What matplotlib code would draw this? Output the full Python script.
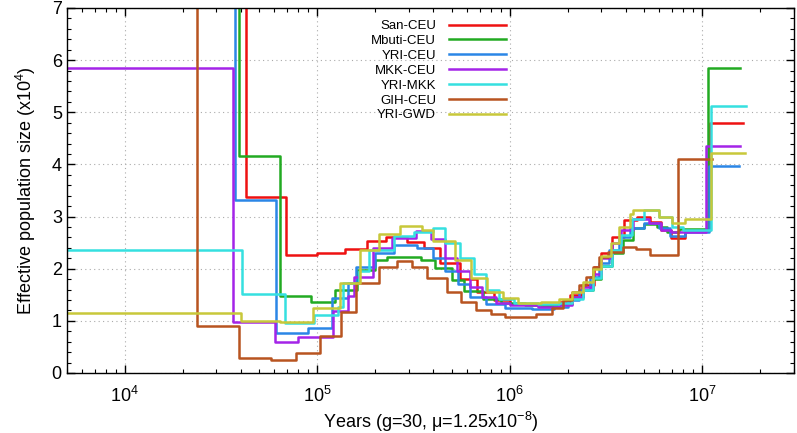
import numpy as np
import matplotlib.pyplot as plt
from matplotlib.ticker import LogLocator, MultipleLocator, NullFormatter

plt.rcParams['font.family'] = ['Liberation Sans', 'DejaVu Sans']
plt.rcParams['mathtext.default'] = 'regular'

# step start times (years); last entry is where the curve ends
san_t = [4e3, 4.28e4, 6.9e4, 1.0e5, 1.39e5, 1.82e5, 2.28e5, 2.93e5, 3.6e5, 4.35e5, 5.5e5, 6.8e5,
         8.3e5, 1.0e6, 1.45e6, 1.8e6, 2.05e6, 2.39e6, 2.75e6, 3.0e6, 3.42e6, 3.95e6, 4.6e6, 5.33e6,
         6.14e6, 6.9e6, 8.1e6, 1.10e7, 1.64e7]
san_ne = [12, 3.38, 2.26, 2.31, 2.38, 2.53, 2.61, 2.51, 2.39, 2.11, 1.80, 1.56,
          1.40, 1.32, 1.30, 1.37, 1.50, 1.69, 2.04, 2.30, 2.60, 2.94, 3.00, 2.90,
          2.74, 2.58, 2.74, 4.79]

mbuti_t = [4e3, 3.92e4, 6.43e4, 9.3e4, 1.24e5, 1.62e5, 2.0e5, 2.3e5, 3.45e5, 4.1e5, 5.0e5, 5.8e5,
           7.3e5, 9.0e5, 1.2e6, 1.5e6, 1.8e6, 2.1e6, 2.4e6, 2.7e6, 3.0e6, 3.4e6, 3.9e6, 4.4e6,
           5.0e6, 5.8e6, 6.6e6, 7.6e6, 1.07e7, 1.58e7]
mbuti_ne = [12, 4.16, 1.47, 1.37, 1.60, 1.98, 2.17, 2.22, 2.17, 2.01, 1.78, 1.58,
            1.42, 1.35, 1.30, 1.28, 1.33, 1.45, 1.60, 1.80, 2.05, 2.30, 2.55, 2.78,
            2.85, 2.80, 2.70, 2.76, 5.85]

yri_ceu_t = [4e3, 3.73e4, 6.08e4, 8.96e4, 1.2e5, 1.45e5, 1.6e5, 2.0e5, 2.5e5, 3.3e5, 4.0e5, 4.6e5,
             5.4e5, 6.2e5, 7.5e5, 9.5e5, 1.3e6, 1.7e6, 2.0e6, 2.3e6, 2.6e6, 2.9e6, 3.3e6, 3.7e6,
             4.2e6, 5.0e6, 6.0e6, 6.8e6, 8.1e6, 1.08e7, 1.55e7]
yri_ceu_ne = [12, 3.31, 0.76, 0.86, 1.44, 1.72, 2.04, 2.30, 2.46, 2.40, 2.20, 1.95,
              1.70, 1.45, 1.32, 1.25, 1.22, 1.27, 1.40, 1.60, 1.85, 2.10, 2.35, 2.60,
              2.78, 2.88, 2.78, 2.62, 2.70, 3.96]

mkk_ceu_t = [4e3, 3.65e4, 6.02e4, 7.94e4, 1.21e5, 1.45e5, 1.55e5, 1.95e5, 2.45e5, 3.25e5, 3.9e5,
             4.6e5, 5.3e5, 6.2e5, 7.2e5, 8.5e5, 1.0e6, 1.4e6, 1.8e6, 2.1e6, 2.4e6, 2.7e6, 3.0e6,
             3.4e6, 3.8e6, 4.4e6, 5.3e6, 6.1e6, 6.9e6, 8.0e6, 1.05e7, 1.57e7]
mkk_ceu_ne = [5.85, 0.97, 0.60, 0.69, 1.18, 1.47, 1.85, 2.40, 2.59, 2.72, 2.56,
              2.20, 1.95, 1.65, 1.45, 1.35, 1.30, 1.27, 1.30, 1.45, 1.65, 1.90, 2.20,
              2.50, 2.75, 2.95, 2.88, 2.75, 2.70, 2.71, 4.36]

yri_mkk_t = [4e3, 4.08e4, 6.78e4, 9.68e4, 1.28e5, 1.36e5, 1.65e5, 1.85e5, 2.5e5, 3.2e5, 4.0e5,
             4.6e5, 5.5e5, 6.5e5, 7.5e5, 8.8e5, 1.05e6, 1.4e6, 1.8e6, 2.1e6, 2.4e6, 2.7e6, 3.0e6,
             3.4e6, 3.8e6, 4.3e6, 5.0e6, 6.0e6, 7.0e6, 8.0e6, 1.11e7, 1.69e7]
yri_mkk_ne = [2.36, 1.52, 0.95, 1.11, 1.27, 1.72, 1.95, 2.35, 2.62, 2.70, 2.78,
              2.50, 2.20, 1.90, 1.60, 1.42, 1.35, 1.32, 1.35, 1.42, 1.60, 1.82, 2.05,
              2.35, 2.65, 2.95, 3.12, 3.00, 2.80, 2.75, 5.12]

gih_ceu_t = [4e3, 2.38e4, 3.91e4, 5.73e4, 7.78e4, 1.04e5, 1.33e5, 1.6e5, 2.1e5, 2.6e5, 3.1e5,
             3.7e5, 4.7e5, 5.6e5, 6.7e5, 8.0e5, 9.5e5, 1.37e6, 1.65e6, 1.9e6, 2.1e6, 2.3e6,
             2.5e6, 2.72e6, 2.92e6, 3.23e6, 3.87e6, 4.54e6, 5.33e6, 7.52e6, 1.12e7]
gih_ceu_ne = [12, 0.90, 0.28, 0.25, 0.39, 0.71, 1.17, 1.72, 2.04, 2.14, 2.04,
              1.82, 1.56, 1.37, 1.21, 1.13, 1.07, 1.13, 1.25, 1.40, 1.55, 1.69,
              1.85, 2.04, 2.23, 2.32, 2.42, 2.37, 2.26, 4.10]

yri_gwd_t = [4e3, 4.03e4, 6.4e4, 9.5e4, 1.32e5, 1.67e5, 2.1e5, 2.7e5, 3.5e5, 4.0e5, 5.2e5,
             6.3e5, 7.6e5, 9.2e5, 1.1e6, 1.45e6, 1.8e6, 2.1e6, 2.4e6, 2.7e6, 3.0e6, 3.35e6,
             3.7e6, 4.2e6, 4.4e6, 6.0e6, 7.0e6, 8.1e6, 1.11e7, 1.68e7]
yri_gwd_ne = [1.15, 1.00, 0.97, 1.24, 1.72, 2.35, 2.67, 2.81, 2.75, 2.54, 2.17,
              1.82, 1.56, 1.44, 1.34, 1.37, 1.42, 1.55, 1.75, 2.00, 2.25, 2.50,
              2.80, 3.05, 3.12, 3.00, 2.88, 2.96, 4.22]

series = [
    ('San-CEU', san_t, san_ne, '#ee1111'),
    ('Mbuti-CEU', mbuti_t, mbuti_ne, '#22aa22'),
    ('YRI-CEU', yri_ceu_t, yri_ceu_ne, '#2b86e6'),
    ('MKK-CEU', mkk_ceu_t, mkk_ceu_ne, '#a424e8'),
    ('YRI-MKK', yri_mkk_t, yri_mkk_ne, '#35e0e0'),
    ('GIH-CEU', gih_ceu_t, gih_ceu_ne, '#b85420'),
    ('YRI-GWD', yri_gwd_t, yri_gwd_ne, '#c8c83a'),
]

fig = plt.figure(figsize=(7.97, 4.33), dpi=100)
ax = fig.add_axes([0.0837, 0.1386, 0.9125, 0.843])

for name, t, ne, col in series:
    ax.plot(t, ne + [ne[-1]], drawstyle='steps-post', color=col, lw=1.8, label=name)

ax.set_xscale('log')
ax.set_xlim(5e3, 3e7)
ax.set_ylim(0, 7)
ax.xaxis.set_major_locator(LogLocator(base=10, numticks=10))
ax.xaxis.set_minor_locator(LogLocator(base=10, subs=np.arange(2, 10), numticks=20))
ax.xaxis.set_minor_formatter(NullFormatter())
ax.yaxis.set_major_locator(MultipleLocator(1))
ax.yaxis.set_minor_locator(MultipleLocator(0.2))
ax.tick_params(which='both', direction='in', top=True, right=True, labelsize=13)
ax.tick_params(which='major', length=6, width=1)
ax.tick_params(which='minor', length=3, width=0.8)
ax.tick_params(axis='x', pad=9)
ax.grid(True, which='major', linestyle=(0, (1, 3)), color='#aaaaaa', lw=0.8)
for s in ax.spines.values():
    s.set_linewidth(1.0)

ax.set_xlabel('Years (g=30, \u03bc=1.25x10$^{-8}$)', fontsize=13, labelpad=3)
ax.set_ylabel('Effective population size (x10$^{4}$)', fontsize=13, labelpad=10)

leg = ax.legend(loc='upper right', bbox_to_anchor=(506 / 797, 1 - 20 / 433),
                bbox_transform=fig.transFigure, frameon=False, markerfirst=False,
                fontsize=9.5, handlelength=4.3, handletextpad=1.0, labelspacing=0.2,
                borderpad=0, borderaxespad=0)
for txt in leg.get_texts():
    txt.set_ha('right')

fig.savefig('out.png', dpi=100)
